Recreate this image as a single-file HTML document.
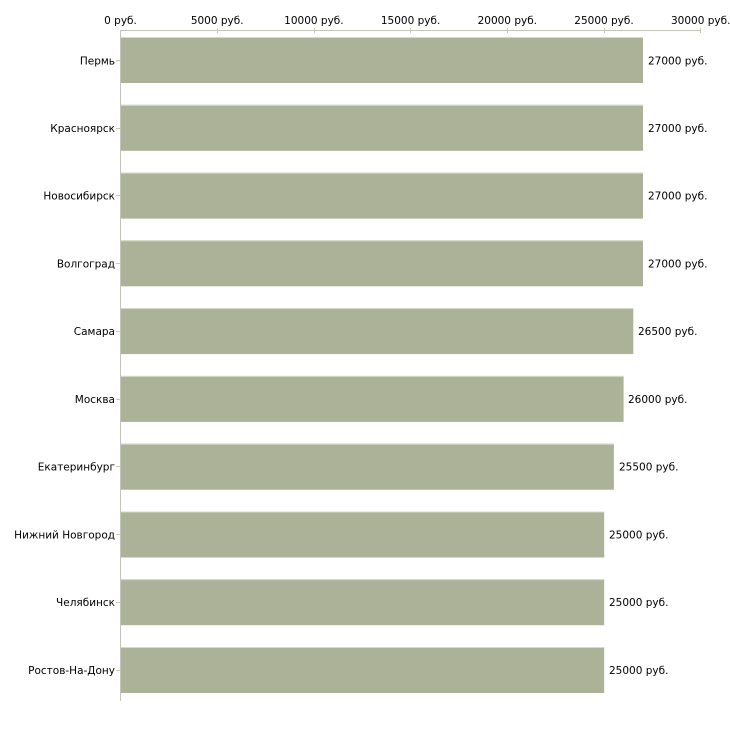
<!DOCTYPE html>
<html><head><meta charset="utf-8"><style>
html,body{margin:0;padding:0;background:#fff;}
svg{display:block;}
text{font-family:"DejaVu Sans","Liberation Sans",sans-serif;fill:#000;}
</style></head><body>
<svg width="730" height="730" viewBox="0 0 730 730" xmlns="http://www.w3.org/2000/svg">
<!-- axes -->
<line x1="120.5" y1="30.5" x2="701" y2="30.5" stroke="#c4c4bc" stroke-width="1"/>
<line x1="120.5" y1="30" x2="120.5" y2="701" stroke="#c4c4bc" stroke-width="1"/>
<!-- top ticks -->
<g stroke="#c8cca8" stroke-width="1">
<line x1="217.5" y1="28" x2="217.5" y2="33"/>
<line x1="314.5" y1="28" x2="314.5" y2="33"/>
<line x1="410.5" y1="28" x2="410.5" y2="33"/>
<line x1="507.5" y1="28" x2="507.5" y2="33"/>
<line x1="604.5" y1="28" x2="604.5" y2="33"/>
<line x1="700.5" y1="28" x2="700.5" y2="33"/>
</g>
<g font-size="10.5" text-anchor="middle">
<text x="120.5" y="24">0 руб.</text>
<text x="217.2" y="24">5000 руб.</text>
<text x="313.9" y="24">10000 руб.</text>
<text x="410.6" y="24">15000 руб.</text>
<text x="507.3" y="24">20000 руб.</text>
<text x="604" y="24">25000 руб.</text>
<text x="700.7" y="24">30000 руб.</text>
</g>
<!-- bars -->
<g fill="#abb297">
<rect x="121" y="37" width="522" height="46"/>
<rect x="121" y="104.8" width="522" height="46"/>
<rect x="121" y="172.6" width="522" height="46"/>
<rect x="121" y="240.3" width="522" height="46"/>
<rect x="121" y="308.1" width="512.3" height="46"/>
<rect x="121" y="375.9" width="502.6" height="46"/>
<rect x="121" y="443.7" width="492.9" height="46"/>
<rect x="121" y="511.5" width="483.2" height="46"/>
<rect x="121" y="579.2" width="483.2" height="46"/>
<rect x="121" y="647" width="483.2" height="46"/>
</g>
<g fill="#d6dac8">
<rect x="121" y="37" width="522" height="1"/>
<rect x="121" y="104.8" width="522" height="1"/>
<rect x="121" y="172.6" width="522" height="1"/>
<rect x="121" y="240.3" width="522" height="1"/>
<rect x="121" y="308.1" width="512.3" height="1"/>
<rect x="121" y="375.9" width="502.6" height="1"/>
<rect x="121" y="443.7" width="492.9" height="1"/>
<rect x="121" y="511.5" width="483.2" height="1"/>
<rect x="121" y="579.2" width="483.2" height="1"/>
<rect x="121" y="647" width="483.2" height="1"/>
</g>
<!-- category ticks -->
<g stroke="#c8cca8" stroke-width="1">
<line x1="116" y1="60.5" x2="120" y2="60.5"/>
<line x1="116" y1="128.5" x2="120" y2="128.5"/>
<line x1="116" y1="195.5" x2="120" y2="195.5"/>
<line x1="116" y1="263.5" x2="120" y2="263.5"/>
<line x1="116" y1="331.5" x2="120" y2="331.5"/>
<line x1="116" y1="399.5" x2="120" y2="399.5"/>
<line x1="116" y1="466.5" x2="120" y2="466.5"/>
<line x1="116" y1="534.5" x2="120" y2="534.5"/>
<line x1="116" y1="602.5" x2="120" y2="602.5"/>
<line x1="116" y1="670.5" x2="120" y2="670.5"/>
</g>
<g font-size="10.5" text-anchor="end">
<text x="115" y="64.5">Пермь</text>
<text x="115" y="132">Красноярск</text>
<text x="115" y="199.5">Новосибирск</text>
<text x="115" y="267.5">Волгоград</text>
<text x="115" y="335">Самара</text>
<text x="115" y="403">Москва</text>
<text x="115" y="470.5">Екатеринбург</text>
<text x="115" y="538.5">Нижний Новгород</text>
<text x="115" y="606">Челябинск</text>
<text x="115" y="674">Ростов-На-Дону</text>
</g>
<g font-size="10.5">
<text x="648" y="64.5">27000 руб.</text>
<text x="648" y="132">27000 руб.</text>
<text x="648" y="199.5">27000 руб.</text>
<text x="648" y="267.5">27000 руб.</text>
<text x="638" y="335">26500 руб.</text>
<text x="628" y="403">26000 руб.</text>
<text x="619" y="470.5">25500 руб.</text>
<text x="609" y="538.5">25000 руб.</text>
<text x="609" y="606">25000 руб.</text>
<text x="609" y="674">25000 руб.</text>
</g>
</svg>
</body></html>
